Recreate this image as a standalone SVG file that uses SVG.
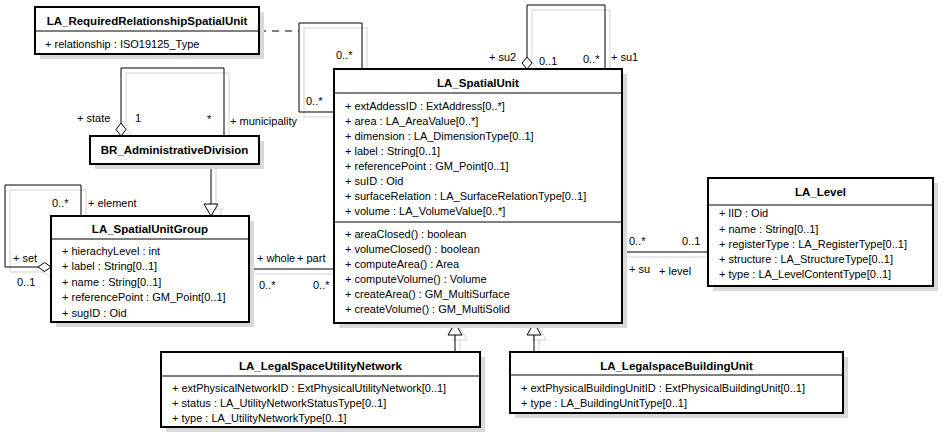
<svg xmlns="http://www.w3.org/2000/svg" xmlns:xlink="http://www.w3.org/1999/xlink" width="948" height="439" viewBox="0 0 948 439">
<style>
text{font-family:"Liberation Sans",Arial,sans-serif;font-size:11px;fill:#000}
.t{font-weight:bold;font-size:11.5px;text-anchor:middle}
.box{fill:#fff;stroke:#000;stroke-width:2}
.sh{fill:#d9d9d9;stroke:none}
.div{stroke:#000;stroke-width:1}
.ln{fill:none}
.dia{fill:#fff}
.dash{fill:none;stroke:#000;stroke-width:1;stroke-dasharray:7,6}
</style>
<defs>
<g id="cl">
<path class="ln" d="M362,69 V23 H299 V112 H334"/>
<path class="ln" d="M527,57 V5 H605 V69"/>
<polygon class="dia" points="527,57 532,63 527,69 522,63"/>
<path class="ln" d="M121,123 V68 H224 V136"/>
<polygon class="dia" points="121,123 126,129.5 121,136 116,129.5"/>
<path class="ln" d="M38,267 H5 V185 H81 V216"/>
<polygon class="dia" points="38,267 44.5,262.5 51,267 44.5,271.5"/>
<path class="ln" d="M211,164 V204"/>
<polygon class="dia" points="211,216 204,204 218,204"/>
<path class="ln" d="M249,269 H334"/>
<path class="ln" d="M622,252 H708"/>
<path class="ln" d="M455,352 V335"/>
<polygon class="dia" points="455,323 448,335 462,335"/>
<path class="ln" d="M534,352 V335"/>
<polygon class="dia" points="534,323 527,335 541,335"/>
</g>
</defs>
<rect width="948" height="439" fill="#fff"/>
<g id="connectors">
<use xlink:href="#cl" href="#cl" transform="translate(5,5)" stroke="#d2d2d2" stroke-width="1"/>
<use xlink:href="#cl" href="#cl" stroke="#000" stroke-width="1"/>
<path class="dash" d="M259,31 H299"/>
<text x="336" y="59">0..*</text>
<text x="306" y="105">0..*</text>
<text x="489" y="61">+ su2</text>
<text x="539" y="65">0..1</text>
<text x="583" y="63">0..*</text>
<text x="611" y="61">+ su1</text>
<text x="77" y="122">+ state</text>
<text x="135" y="122">1</text>
<text x="207" y="123">*</text>
<text x="230" y="125">+ municipality</text>
<text x="52" y="207">0..*</text>
<text x="88" y="207">+ element</text>
<text x="13" y="262">+ set</text>
<text x="17" y="286">0..1</text>
<text x="257" y="262">+ whole</text>
<text x="297" y="262">+ part</text>
<text x="259" y="289">0..*</text>
<text x="313" y="289">0..*</text>
<text x="629" y="245">0..*</text>
<text x="682" y="245">0..1</text>
<text x="629" y="273">+ su</text>
<text x="659" y="275">+ level</text>
</g>
<g id="LA_RequiredRelationshipSpatialUnit">
<rect class="sh" x="40" y="12" width="224" height="47"/>
<rect class="box" x="35" y="7" width="224" height="47"/>
<line class="div" x1="35" y1="31" x2="259" y2="31"/>
<text class="t" x="147" y="25">LA_RequiredRelationshipSpatialUnit</text>
<text x="45" y="48">+ relationship : ISO19125_Type</text>
</g>
<g id="LA_SpatialUnit">
<rect class="sh" x="339" y="74" width="288" height="254"/>
<rect class="box" x="334" y="69" width="288" height="254"/>
<line class="div" x1="334" y1="93" x2="622" y2="93"/>
<line class="div" x1="334" y1="222" x2="622" y2="222"/>
<text class="t" x="478" y="87">LA_SpatialUnit</text>
<text x="345" y="110">+ extAddessID : ExtAddress[0..*]</text>
<text x="345" y="125">+ area : LA_AreaValue[0..*]</text>
<text x="345" y="140">+ dimension : LA_DimensionType[0..1]</text>
<text x="345" y="155">+ label : String[0..1]</text>
<text x="345" y="170">+ referencePoint : GM_Point[0..1]</text>
<text x="345" y="185">+ suID : Oid</text>
<text x="345" y="200">+ surfaceRelation : LA_SurfaceRelationType[0..1]</text>
<text x="345" y="215">+ volume : LA_VolumeValue[0..*]</text>
<text x="345" y="238">+ areaClosed() : boolean</text>
<text x="345" y="253">+ volumeClosed() : boolean</text>
<text x="345" y="268">+ computeArea() : Area</text>
<text x="345" y="283">+ computeVolume() : Volume</text>
<text x="345" y="298">+ createArea() : GM_MultiSurface</text>
<text x="345" y="313">+ createVolume() : GM_MultiSolid</text>
</g>
<g id="LA_Level">
<rect class="sh" x="713" y="183" width="225" height="108"/>
<rect class="box" x="708" y="178" width="225" height="108"/>
<line class="div" x1="708" y1="205" x2="933" y2="205"/>
<text class="t" x="820.5" y="196">LA_Level</text>
<text x="719" y="217">+ lID : Oid</text>
<text x="719" y="232.5">+ name : String[0..1]</text>
<text x="719" y="248">+ registerType : LA_RegisterType[0..1]</text>
<text x="719" y="263">+ structure : LA_StructureType[0..1]</text>
<text x="719" y="278">+ type : LA_LevelContentType[0..1]</text>
</g>
<g id="BR_AdministrativeDivision">
<rect class="sh" x="95" y="141" width="169" height="28"/>
<rect class="box" x="90" y="136" width="169" height="28"/>
<text class="t" x="174.5" y="153.5">BR_AdministrativeDivision</text>
</g>
<g id="LA_SpatialUnitGroup">
<rect class="sh" x="56" y="221" width="198" height="106"/>
<rect class="box" x="51" y="216" width="198" height="106"/>
<line class="div" x1="51" y1="239" x2="249" y2="239"/>
<text class="t" x="150" y="233">LA_SpatialUnitGroup</text>
<text x="62" y="255">+ hierachyLevel : int</text>
<text x="62" y="270.4">+ label : String[0..1]</text>
<text x="62" y="285.8">+ name : String[0..1]</text>
<text x="62" y="301.2">+ referencePoint : GM_Point[0..1]</text>
<text x="62" y="316.6">+ sugID : Oid</text>
</g>
<g id="LA_LegalSpaceUtilityNetwork">
<rect class="sh" x="166" y="357" width="319" height="75"/>
<rect class="box" x="161" y="352" width="319" height="75"/>
<line class="div" x1="161" y1="376" x2="480" y2="376"/>
<text class="t" x="320.5" y="369.5">LA_LegalSpaceUtilityNetwork</text>
<text x="172" y="392">+ extPhysicalNetworkID : ExtPhysicalUtilityNetwork[0..1]</text>
<text x="172" y="407">+ status : LA_UtilityNetworkStatusType[0..1]</text>
<text x="172" y="422">+ type : LA_UtilityNetworkType[0..1]</text>
</g>
<g id="LA_LegalspaceBuildingUnit">
<rect class="sh" x="515" y="357" width="333" height="61"/>
<rect class="box" x="510" y="352" width="333" height="61"/>
<line class="div" x1="510" y1="375" x2="843" y2="375"/>
<text class="t" x="676.5" y="369.5">LA_LegalspaceBuildingUnit</text>
<text x="521" y="392">+ extPhysicalBuildingUnitID : ExtPhysicalBuildingUnit[0..1]</text>
<text x="521" y="406.5">+ type : LA_BuildingUnitType[0..1]</text>
</g>
</svg>
